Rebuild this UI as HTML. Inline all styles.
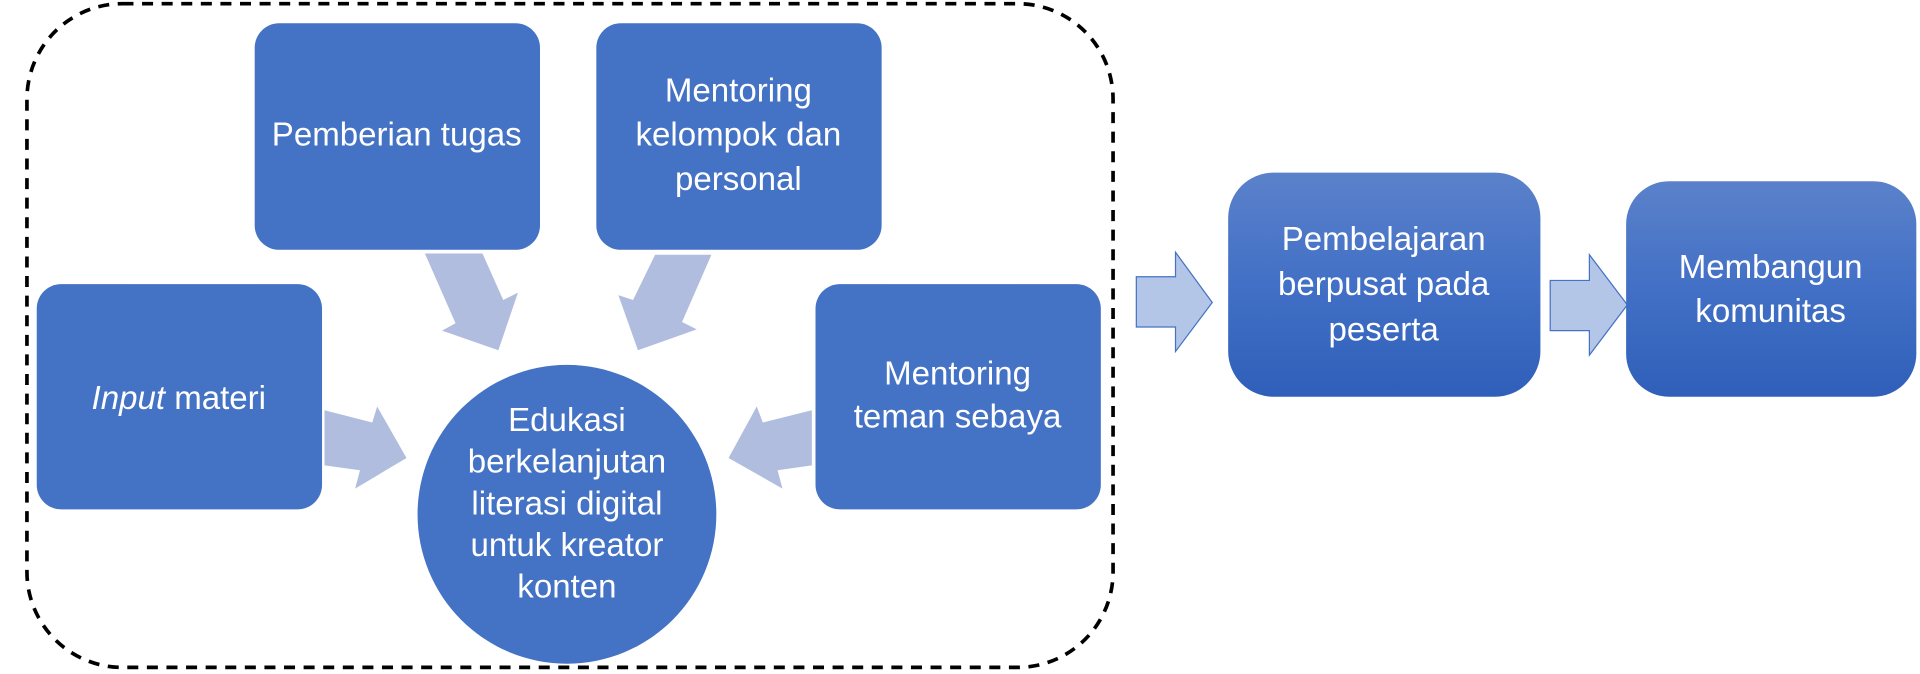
<!DOCTYPE html>
<html><head><meta charset="utf-8"><style>html,body{margin:0;padding:0;background:#fff;}svg{display:block}</style></head>
<body>
<svg width="1920" height="674" viewBox="0 0 1568 550.4" preserveAspectRatio="none" xmlns="http://www.w3.org/2000/svg" font-family="'Liberation Sans', sans-serif" font-size="27" fill="#fff">
<defs>
<linearGradient id="g" x1="0" y1="0" x2="0" y2="1">
<stop offset="0" stop-color="#5b81ca"/><stop offset="0.5" stop-color="#4270c6"/><stop offset="1" stop-color="#2f5fb9"/>
</linearGradient>
</defs>
<rect x="22" y="3" width="887" height="542" rx="78" fill="none" stroke="#000" stroke-width="3" stroke-dasharray="9 7"/>
<rect x="208" y="19" width="233" height="185" rx="20" fill="#4472c4"/>
<rect x="487" y="19" width="233" height="185" rx="20" fill="#4472c4"/>
<rect x="30" y="232" width="233" height="184" rx="20" fill="#4472c4"/>
<rect x="666" y="232" width="233" height="184" rx="20" fill="#4472c4"/>
<circle cx="463" cy="420" r="122" fill="#4472c4"/>
<g fill="#b0bddf">
<polygon points="347,207 394,207 411,245 423,239 407,286 361,270 372,264"/>
<polygon points="535,208 581,208 557,263 569,269 521,286 505,241 517,245"/>
<polygon points="265,335 304,345 308,332 332,374 290,399 294,384 265,380"/>
<polygon points="663,335 623,345 618,332 595,374 639,399 635,384 663,380"/>
</g>
<g fill="#b4c6e7" stroke="#4472c4" stroke-width="1">
<polygon points="928,226 960,226 960,206 990,247 960,287 960,267 928,267"/>
<polygon points="1266,229 1298,229 1298,208 1329,249 1298,290 1298,270 1266,270"/>
</g>
<rect x="1003" y="141" width="255" height="183" rx="37" fill="url(#g)"/>
<rect x="1328" y="148" width="237" height="176" rx="35" fill="url(#g)"/>
<g text-anchor="middle">
<text x="324" y="119">Pemberian tugas</text>
<text x="603" y="83">Mentoring</text>
<text x="603" y="119">kelompok dan</text>
<text x="603" y="155">personal</text>
<text x="146" y="334"><tspan font-style="italic">Input</tspan> materi</text>
<text x="782" y="314">Mentoring</text>
<text x="782" y="349">teman sebaya</text>
<text x="463" y="352">Edukasi</text>
<text x="463" y="386">berkelanjutan</text>
<text x="463" y="420">literasi digital</text>
<text x="463" y="454">untuk kreator</text>
<text x="463" y="488">konten</text>
<text x="1130" y="204">Pembelajaran</text>
<text x="1130" y="241">berpusat pada</text>
<text x="1130" y="278">peserta</text>
<text x="1446" y="227">Membangun</text>
<text x="1446" y="263">komunitas</text>
</g>
</svg>
</body></html>
